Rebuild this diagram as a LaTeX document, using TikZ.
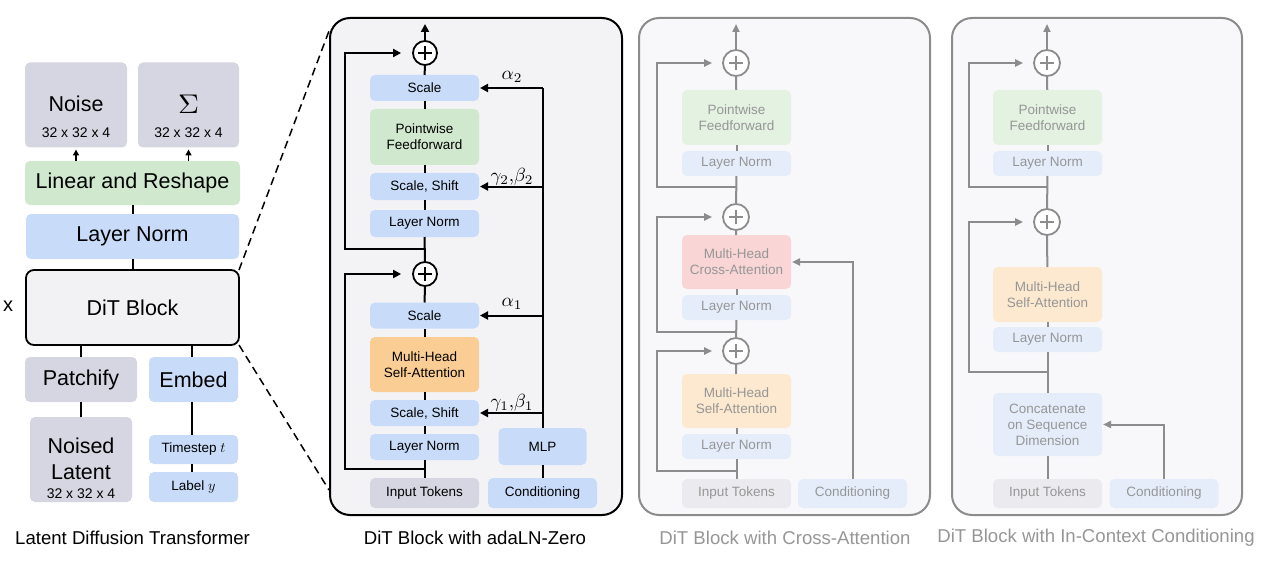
\documentclass[tikz,border=0pt]{standalone}
\usepackage{fontspec}
\setmainfont{Liberation Sans}
\usetikzlibrary{arrows.meta,calc}
\definecolor{cgray}{RGB}{213,214,225}
\definecolor{cblue}{RGB}{200,219,248}
\definecolor{cgreen}{RGB}{208,232,206}
\definecolor{corange}{RGB}{250,205,148}
\definecolor{cdit}{RGB}{242,242,244}
\definecolor{cpanel}{RGB}{243,243,246}
\definecolor{fpanel}{RGB}{248,248,250}
\definecolor{fline}{RGB}{140,140,140}
\definecolor{ftext}{RGB}{150,150,150}
\definecolor{fgreen}{RGB}{228,242,226}
\definecolor{fblue}{RGB}{229,237,251}
\definecolor{fpink}{RGB}{249,213,213}
\definecolor{forange}{RGB}{252,233,208}
\definecolor{fgray}{RGB}{235,235,239}
\newcommand\mlab[1]{\scalebox{1.9}{$#1$}}
\tikzset{
  box/.style={rounded corners=5pt, inner sep=0pt, outer sep=0pt, align=center},
  bigtext/.style={font=\fontsize{21.5}{24}\selectfont},
  smalltext/.style={font=\fontsize{13.5}{16}\selectfont},
  dimtext/.style={font=\fontsize{14}{16}\selectfont},
  mbox/.style={box, smalltext, minimum width=109pt},
  fbox/.style={box, smalltext, minimum width=109pt, text=ftext},
  lbl/.style={inner sep=0pt, outer sep=0pt},
  conn/.style={line width=2pt, draw=black},
  arr/.style={conn, -{Triangle[length=8pt,width=8pt]}},
  sarr/.style={line width=1.6pt, draw=black, -{Triangle[length=6pt,width=6pt]}},
  fconn/.style={line width=2pt, draw=fline},
  farr/.style={fconn, -{Triangle[length=8pt,width=7pt]}},
  addop/.style={circle, draw=#1, line width=1.8pt, minimum size=24pt, inner sep=0pt, fill=white,
    path picture={\draw[line width=1.8pt, #1]
      ([xshift=-7pt]path picture bounding box.center) -- ([xshift=7pt]path picture bounding box.center)
      ([yshift=-7pt]path picture bounding box.center) -- ([yshift=7pt]path picture bounding box.center);}},
  addop/.default=black,
  faddop/.style={addop=fline, minimum size=26pt},
  panel/.style={draw, rounded corners=20pt, line width=2pt, inner sep=0pt},
  captext/.style={lbl, font=\fontsize{18.6}{20}\selectfont},
  mlabel/.style={lbl}
}
\begin{document}
\begin{tikzpicture}[x=1pt,y=-1pt]
\useasboundingbox (0,0) rectangle (1280,567);

% ================= Left: Latent Diffusion Transformer =================
\node[box, fill=cgray, minimum width=102pt, minimum height=85pt] (noise) at (76,105) {};
\node[lbl, bigtext] (noiset) at (76,104) {Noise};
\node[lbl, dimtext] (noised) at (76,133) {32 x 32 x 4};
\node[box, fill=cgray, minimum width=101pt, minimum height=85pt] (sigma) at (188.5,105) {};
\node[lbl] (sigmat) at (188.5,104) {\scalebox{2.9}[2.7]{$\Sigma$}};
\node[lbl, dimtext] (sigmad) at (188.5,133) {32 x 32 x 4};
\node[box, bigtext, fill=cgreen, minimum width=215pt, minimum height=44pt] (linear) at (132.5,183) {Linear and Reshape};
\node[box, bigtext, fill=cblue, minimum width=213pt, minimum height=45pt] (lnl) at (132.5,236.5) {Layer Norm};
\node[box, bigtext, fill=cdit, draw=black, line width=1.8pt, rounded corners=8pt, minimum width=213pt, minimum height=75pt] (dit) at (132.5,307.5) {DiT Block};
\node[lbl, font=\fontsize{20}{22}\selectfont] (times) at (8,306) {x};
\node[box, bigtext, fill=cgray, minimum width=112pt, minimum height=45pt] (patch) at (81,379.5) {Patchify};
\node[box, fill=cgray, minimum width=102pt, minimum height=85pt] (latent) at (81,459.5) {};
\node[lbl, bigtext] (latent1) at (81,446) {Noised};
\node[lbl, bigtext] (latent2) at (81,472) {Latent};
\node[lbl, dimtext] (latent3) at (81,494) {32 x 32 x 4};
\node[box, bigtext, fill=cblue, minimum width=89pt, minimum height=45pt] (embed) at (193.5,379.5) {Embed};
\node[box, smalltext, fill=cblue, minimum width=89pt, minimum height=29pt] (tstep) at (193.5,449.5) {Timestep $t$};
\node[box, smalltext, fill=cblue, minimum width=89pt, minimum height=30pt] (label) at (193.5,487) {Label $y$};

\draw[sarr, shorten >=2pt] (linear.north -| noise) -- (noise);
\draw[sarr, shorten >=2pt] (linear.north -| sigma) -- (sigma);
\draw[conn] (lnl) -- (linear);
\draw[conn] (dit) -- (lnl);
\draw[conn] (patch.north) -- (patch.north |- dit.south);
\draw[conn] (latent) -- (patch);
\draw[conn] (embed.north -| 192,0) -- (dit.south -| 192,0);
\draw[conn] (tstep.north -| 192,0) -- (embed.south -| 192,0);
\draw[conn] (label.north -| 192,0) -- (tstep.south -| 192,0);

\node[captext] (cap1) at (132.5,538) {Latent Diffusion Transformer};

% ================= Middle: adaLN-Zero =================
\node[panel, fill=cpanel, draw=black, minimum width=292pt, minimum height=497pt] (pa) at (476,266.5) {};
\draw[line width=1.5pt, dash pattern=on 8pt off 5pt] (dit.north east) -- ($(pa.north west)+(0,14)$);
\draw[line width=1.5pt, dash pattern=on 8pt off 5pt] (dit.south east) -- ($(pa.south west)+(0,-26)$);

\node[addop] (ad2) at (425,53) {};
\node[mbox, fill=cblue, minimum height=26pt] (sc2) at (424.5,88) {Scale};
\node[mbox, fill=cgreen, minimum height=56pt] (pff) at (424.5,137) {Pointwise\\Feedforward};
\node[mbox, fill=cblue, minimum height=27pt] (ss2) at (424.5,186.5) {Scale, Shift};
\node[mbox, fill=cblue, minimum height=27pt] (ln2) at (424.5,223.5) {Layer Norm};
\node[addop] (ad1) at (425,274) {};
\node[mbox, fill=cblue, minimum height=26pt] (sc1) at (424.5,315.5) {Scale};
\node[mbox, fill=corange, minimum height=55pt] (mhsa) at (424.5,364.5) {Multi-Head\\Self-Attention};
\node[mbox, fill=cblue, minimum height=26pt] (ss1) at (424.5,413) {Scale, Shift};
\node[mbox, fill=cblue, minimum height=26pt] (ln1) at (424.5,447) {Layer Norm};
\node[mbox, fill=cgray, minimum height=30pt] (inp) at (424.5,493) {Input Tokens};
\node[mbox, fill=cblue, minimum height=30pt] (cond) at (542.5,493) {Conditioning};
\node[box, smalltext, fill=cblue, minimum width=88pt, minimum height=37pt] (mlp) at (542.5,446.5) {MLP};

\coordinate (out) at (425,24);
\draw[arr] (ad2) -- (out);
\draw[conn] (sc2) -- (ad2);
\draw[conn] (pff) -- (sc2);
\draw[conn] (ss2) -- (pff);
\draw[conn] (ln2) -- (ss2);
\draw[conn] (ad1) -- (ln2);
\draw[conn] (sc1) -- (ad1);
\draw[conn] (mhsa) -- (sc1);
\draw[conn] (ss1) -- (mhsa);
\draw[conn] (ln1) -- (ss1);
\draw[conn] (inp) -- (ln1);
\coordinate (j2) at (425,249);
\coordinate (j1) at (425,469);
\draw[arr, shorten >=11pt] (j2) -| (345,53) -- (ad2);
\draw[arr, shorten >=11pt] (j1) -| (345,274) -- (ad1);
\draw[conn] (cond) -- (mlp);
\draw[conn] (mlp.north) -- (mlp.north |- sc2.east);
\draw[arr, shorten >=1pt] (mlp.north |- sc2.east) -- (sc2.east);
\draw[arr, shorten >=1pt] (mlp.north |- ss2.east) -- (ss2.east);
\draw[arr, shorten >=1pt] (mlp.north |- sc1.east) -- (sc1.east);
\draw[arr, shorten >=1pt] (mlp.north |- ss1.east) -- (ss1.east);
\node[mlabel] (la2) at (512,77) {\mlab{\alpha_2}};
\node[mlabel] (lg2) at (512,177) {\mlab{\gamma_2{,}\beta_2}};
\node[mlabel] (la1) at (512,304) {\mlab{\alpha_1}};
\node[mlabel] (lg1) at (512,403) {\mlab{\gamma_1{,}\beta_1}};

\node[captext] (cap2) at (475,538) {DiT Block with adaLN-Zero};

% ================= Cross-Attention =================
\node[panel, fill=fpanel, draw=fline, minimum width=291pt, minimum height=497pt] (pb) at (784.5,266.5) {};
\node[faddop] (cad3) at (736,63) {};
\node[fbox, fill=fgreen, minimum height=55pt] (cpff) at (736.5,117.5) {Pointwise\\Feedforward};
\node[fbox, fill=fblue, minimum height=25pt] (cln3) at (736.5,163.5) {Layer Norm};
\node[faddop] (cad2) at (736,217) {};
\node[fbox, fill=fpink, minimum height=54pt] (cca) at (736.5,262) {Multi-Head\\Cross-Attention};
\node[fbox, fill=fblue, minimum height=25pt] (cln2) at (736.5,307.5) {Layer Norm};
\node[faddop] (cad1) at (736,351) {};
\node[fbox, fill=forange, minimum height=54pt] (cmhsa) at (736.5,401) {Multi-Head\\Self-Attention};
\node[fbox, fill=fblue, minimum height=25pt] (cln1) at (736.5,446.5) {Layer Norm};
\node[fbox, fill=fgray, minimum height=29pt] (cinp) at (736.5,493.5) {Input Tokens};
\node[fbox, fill=fblue, minimum height=29pt] (ccond) at (852.5,493.5) {Conditioning};

\coordinate (cout) at (736,24);
\draw[farr] (cad3) -- (cout);
\draw[fconn] (cpff) -- (cad3);
\draw[fconn] (cln3) -- (cpff);
\draw[fconn] (cad2) -- (cln3);
\draw[fconn] (cca) -- (cad2);
\draw[fconn] (cln2) -- (cca);
\draw[fconn] (cad1) -- (cln2);
\draw[fconn] (cmhsa) -- (cad1);
\draw[fconn] (cln1) -- (cmhsa);
\draw[fconn] (cinp) -- (cln1);
\coordinate (cj3) at (736,187);
\coordinate (cj2) at (736,332);
\coordinate (cj1) at (736,471);
\draw[farr, shorten >=10pt] (cj3) -| (657,63) -- (cad3);
\draw[farr, shorten >=10pt] (cj2) -| (657,217) -- (cad2);
\draw[farr, shorten >=10pt] (cj1) -| (657,351) -- (cad1);
\draw[farr, shorten >=1pt] (ccond.north) |- (cca.east);

\node[captext, text=ftext] (cap3) at (785,538) {DiT Block with Cross-Attention};

% ================= In-Context =================
\node[panel, fill=fpanel, draw=fline, minimum width=290pt, minimum height=497pt] (pc) at (1097,266.5) {};
\node[faddop] (iad2) at (1047,63) {};
\node[fbox, fill=fgreen, minimum height=55pt] (ipff) at (1047.5,117.5) {Pointwise\\Feedforward};
\node[fbox, fill=fblue, minimum height=25pt] (iln2) at (1047.5,163.5) {Layer Norm};
\node[faddop] (iad1) at (1047,222) {};
\node[fbox, fill=forange, minimum height=55pt] (imhsa) at (1047.5,294.5) {Multi-Head\\Self-Attention};
\node[fbox, fill=fblue, minimum height=25pt] (iln1) at (1047.5,339.5) {Layer Norm};
\node[fbox, fill=fblue, minimum height=63pt] (icat) at (1047.5,424.5) {Concatenate\\on Sequence\\Dimension};
\node[fbox, fill=fgray, minimum height=29pt] (iinp) at (1047.5,493.5) {Input Tokens};
\node[fbox, fill=fblue, minimum height=29pt] (icond) at (1164,493.5) {Conditioning};

\coordinate (iout) at (1047,24);
\draw[farr] (iad2) -- (iout);
\draw[fconn] (ipff) -- (iad2);
\draw[fconn] (iln2) -- (ipff);
\draw[fconn] (iad1) -- (iln2);
\draw[fconn] (imhsa) -- (iad1);
\draw[fconn] (iln1) -- (imhsa);
\draw[fconn] (icat) -- (iln1);
\draw[fconn] (iinp) -- (icat);
\coordinate (ij2) at (1047,187);
\coordinate (ij1) at (1047,372);
\draw[farr, shorten >=10pt] (ij2) -| (969,63) -- (iad2);
\draw[farr, shorten >=10pt] (ij1) -| (969,222) -- (iad1);
\draw[farr, shorten >=1pt] (icond.north) |- (icat.east);

\node[captext, text=ftext] (cap4) at (1096,538) {DiT Block with In-Context Conditioning};
\end{tikzpicture}
\end{document}
